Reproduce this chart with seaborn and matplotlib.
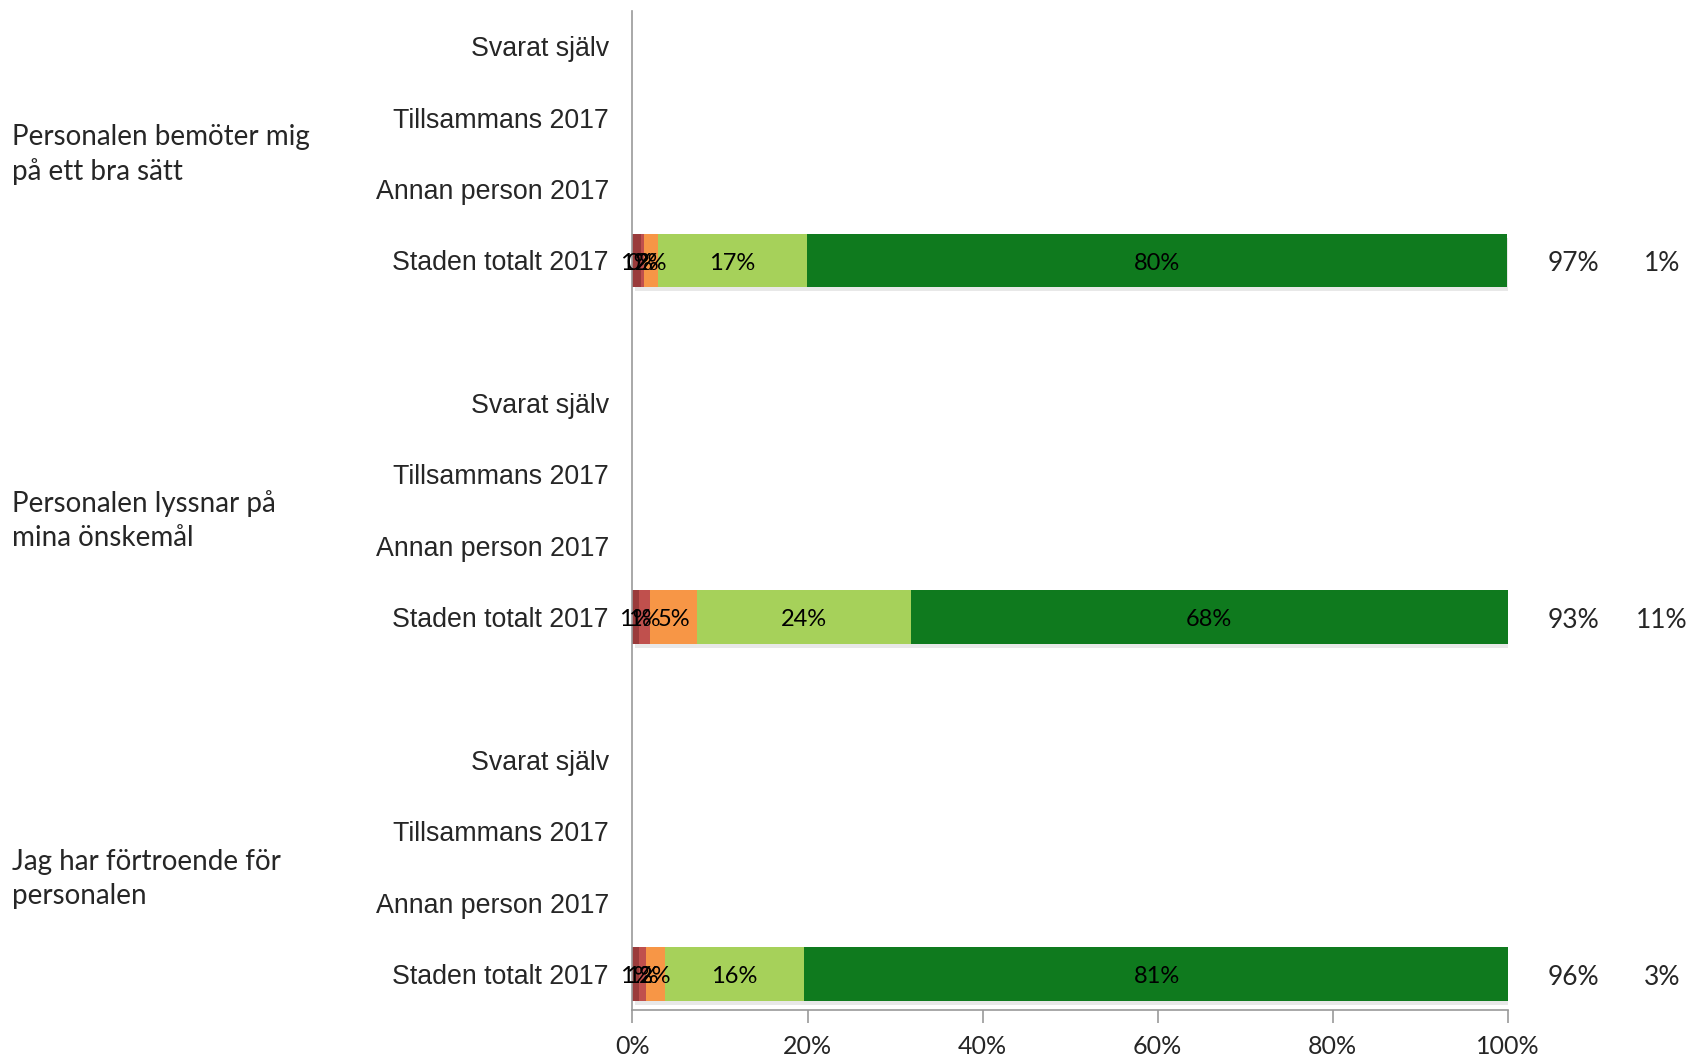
import numpy as np
import pandas as pd
import seaborn as sns
import matplotlib.pyplot as plt
import matplotlib.transforms as mtransforms
import matplotlib.patheffects as pe

# questions (group labels) and the four answer rows in each group
questions = ["Personalen bemöter mig\npå ett bra sätt",
             "Personalen lyssnar på\nmina önskemål",
             "Jag har förtroende för\npersonalen"]
row_names = ["Svarat själv", "Tillsammans 2017", "Annan person 2017", "Staden totalt 2017"]

# stacked segment shares (%) for "Staden totalt 2017", negative -> positive
staden_q1 = [1.0, 0.3, 1.6, 17.0, 80.0]
staden_q2 = [0.7, 1.3, 5.4, 24.4, 68.2]
staden_q3 = [0.8, 0.7, 2.2, 15.9, 80.6]
positive_share = [97, 93, 96]
negative_share = [1, 11, 3]
x_ticks = [0, 20, 40, 60, 80, 100]

segment_colors = ["#9a3b3b", "#c0504d", "#f79646", "#a6d15a", "#0f7a1e"]

sns.set_style("white")
plt.rcParams["font.family"] = ["Lato", "DejaVu Sans"]

# category order, with one blank slot between the question groups
order, tick_text = [], []
for g in range(len(questions)):
    for r in row_names:
        order.append(f"{g}|{r}")
        tick_text.append(r)
    if g < len(questions) - 1:
        order.append(f"gap{g}")
        tick_text.append("")

records = []
for g, vals in enumerate([staden_q1, staden_q2, staden_q3]):
    cum = np.cumsum(vals)
    for i, (v, c) in enumerate(zip(vals, cum)):
        records.append({"row": f"{g}|Staden totalt 2017", "seg": i, "value": v, "cum": c})
df = pd.DataFrame(records)

fig = plt.figure(figsize=(17, 10.56), dpi=100)
ax = fig.add_axes([0.372, 0.044, 0.515, 0.946])

# stacked bars: draw cumulative totals from the last segment back to the first
for i in reversed(range(len(segment_colors))):
    n_before = len(ax.patches)
    sns.barplot(data=df[df["seg"] == i], x="cum", y="row", order=order,
                color=segment_colors[i], saturation=1, width=0.75,
                errorbar=None, orient="h", ax=ax, linewidth=0)
    if i == len(segment_colors) - 1:
        for p in ax.patches[n_before:]:
            p.set_path_effects([pe.SimplePatchShadow(offset=(2, -3), shadow_rgbFace="#9a9a9a", alpha=0.22),
                                pe.Normal()])

# segment labels
for _, rec in df.iterrows():
    y = order.index(rec["row"])
    ax.text(rec["cum"] - rec["value"] / 2, y + 0.04, f"{rec['value']:.0f}%",
            ha="center", va="center", fontsize=17, color="black")

# right-hand summary columns
for g in range(len(questions)):
    y = order.index(f"{g}|Staden totalt 2017") + 0.05
    ax.text(107.5, y, f"{positive_share[g]}%", ha="center", va="center", fontsize=19, clip_on=False)
    ax.text(117.6, y, f"{negative_share[g]}%", ha="center", va="center", fontsize=19, clip_on=False)

# question labels at the far left
trans = mtransforms.blended_transform_factory(fig.transFigure, ax.transData)
label_offsets = [1.52, 1.65, 1.67]
for g, q in enumerate(questions):
    ax.text(0.007, g * 5 + label_offsets[g], q, transform=trans, ha="left", va="center",
            fontsize=20, linespacing=1.38, clip_on=False)

ax.set_xlim(0, 100)
ax.set_ylim(len(order) - 0.5, -0.5)
ax.set_xticks(x_ticks)
ax.set_xticklabels([f"{t}%" for t in x_ticks], fontsize=18)
ax.set_yticks(range(len(order)))
ax.set_yticklabels(tick_text, fontsize=19.3, family="Liberation Sans")
ax.set_xlabel("")
ax.set_ylabel("")
ax.tick_params(axis="y", length=0, pad=17)
ax.tick_params(axis="x", length=9, width=1.2, color="#999999", direction="out", pad=9, bottom=True)
for s in ["top", "right"]:
    ax.spines[s].set_visible(False)
for s in ["left", "bottom"]:
    ax.spines[s].set_color("#999999")
    ax.spines[s].set_linewidth(1.2)

fig.savefig("out.png", dpi=100)
